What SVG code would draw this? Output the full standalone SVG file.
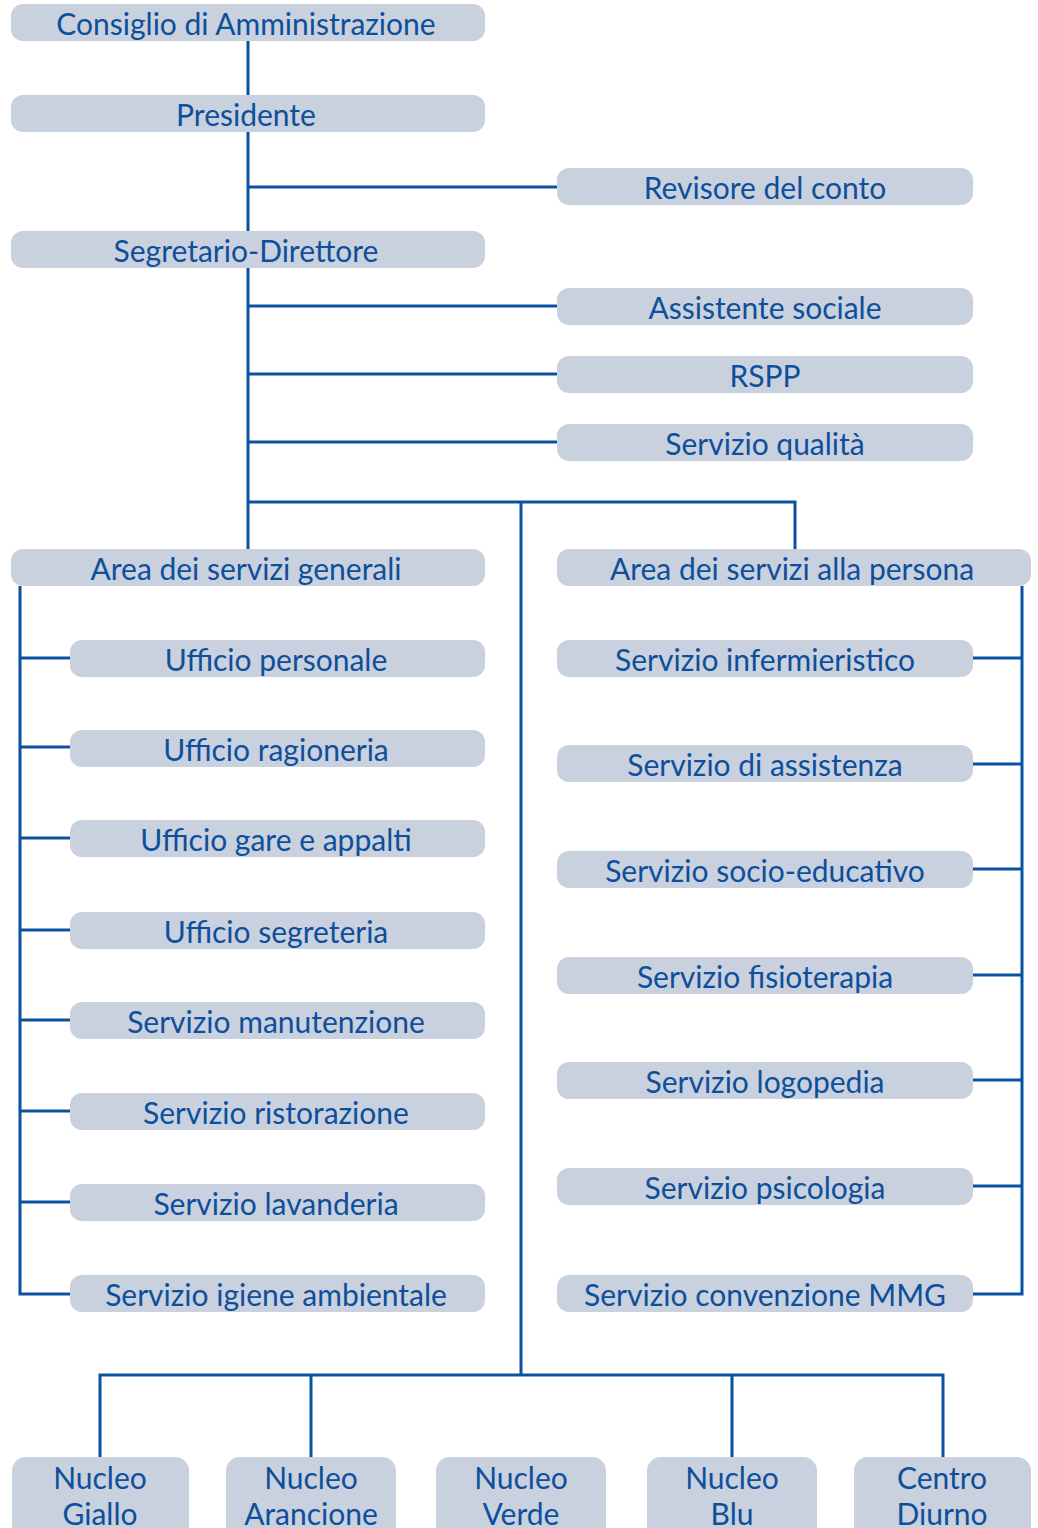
<svg xmlns="http://www.w3.org/2000/svg" width="1038" height="1528" viewBox="0 0 1038 1528">
<style>
.b{fill:#c9d0de}
.t{font-family:"Lato","Noto Sans",sans-serif;font-size:30px;fill:#0d4f9b;text-anchor:middle}
.c{stroke:#0a52a0;stroke-width:3;fill:none}
</style>
<rect width="1038" height="1528" fill="#fff"/>
<g id="connectors" class="c">
<path d="M248 41V549"/>
<path d="M248 187H557M248 306H557M248 374H557M248 442H557"/>
<path d="M248 502H795V549M521 502V1375"/>
<path d="M20 586V1294H70M20 658H70M20 747H70M20 838H70M20 930H70M20 1020H70M20 1111H70M20 1202H70"/>
<path d="M1022 586V1294H973M973 658H1022M973 764H1022M973 869H1022M973 975H1022M973 1080H1022M973 1186H1022"/>
<path d="M100 1457V1375H943V1457M311 1375V1457M732 1375V1457"/>
</g>
<g id="n1"><rect class="b" x="11" y="4" width="474" height="37" rx="12"/><text class="t" x="246" y="35">Consiglio di Amministrazione</text></g>
<g id="n2"><rect class="b" x="11" y="95" width="474" height="37" rx="12"/><text class="t" x="246" y="126">Presidente</text></g>
<g id="n3"><rect class="b" x="557" y="168" width="416" height="37" rx="12"/><text class="t" x="765" y="199">Revisore del conto</text></g>
<g id="n4"><rect class="b" x="11" y="231" width="474" height="37" rx="12"/><text class="t" x="246" y="262">Segretario-Direttore</text></g>
<g id="n5"><rect class="b" x="557" y="288" width="416" height="37" rx="12"/><text class="t" x="765" y="319">Assistente sociale</text></g>
<g id="n6"><rect class="b" x="557" y="356" width="416" height="37" rx="12"/><text class="t" x="765" y="387">RSPP</text></g>
<g id="n7"><rect class="b" x="557" y="424" width="416" height="37" rx="12"/><text class="t" x="765" y="455">Servizio qualità</text></g>
<g id="n8"><rect class="b" x="11" y="549" width="474" height="37" rx="12"/><text class="t" x="246" y="580">Area dei servizi generali</text></g>
<g id="n9"><rect class="b" x="557" y="549" width="474" height="37" rx="12"/><text class="t" x="792" y="580">Area dei servizi alla persona</text></g>
<g id="n10"><rect class="b" x="70" y="640" width="415" height="37" rx="12"/><text class="t" x="276" y="671">Ufficio personale</text></g>
<g id="n11"><rect class="b" x="70" y="730" width="415" height="37" rx="12"/><text class="t" x="276" y="761">Ufficio ragioneria</text></g>
<g id="n12"><rect class="b" x="70" y="820" width="415" height="37" rx="12"/><text class="t" x="276" y="851">Ufficio gare e appalti</text></g>
<g id="n13"><rect class="b" x="70" y="912" width="415" height="37" rx="12"/><text class="t" x="276" y="943">Ufficio segreteria</text></g>
<g id="n14"><rect class="b" x="70" y="1002" width="415" height="37" rx="12"/><text class="t" x="276" y="1033">Servizio manutenzione</text></g>
<g id="n15"><rect class="b" x="70" y="1093" width="415" height="37" rx="12"/><text class="t" x="276" y="1124">Servizio ristorazione</text></g>
<g id="n16"><rect class="b" x="70" y="1184" width="415" height="37" rx="12"/><text class="t" x="276" y="1215">Servizio lavanderia</text></g>
<g id="n17"><rect class="b" x="70" y="1275" width="415" height="37" rx="12"/><text class="t" x="276" y="1306">Servizio igiene ambientale</text></g>
<g id="n18"><rect class="b" x="557" y="640" width="416" height="37" rx="12"/><text class="t" x="765" y="671">Servizio infermieristico</text></g>
<g id="n19"><rect class="b" x="557" y="745" width="416" height="37" rx="12"/><text class="t" x="765" y="776">Servizio di assistenza</text></g>
<g id="n20"><rect class="b" x="557" y="851" width="416" height="37" rx="12"/><text class="t" x="765" y="882">Servizio socio-educativo</text></g>
<g id="n21"><rect class="b" x="557" y="957" width="416" height="37" rx="12"/><text class="t" x="765" y="988">Servizio fisioterapia</text></g>
<g id="n22"><rect class="b" x="557" y="1062" width="416" height="37" rx="12"/><text class="t" x="765" y="1093">Servizio logopedia</text></g>
<g id="n23"><rect class="b" x="557" y="1168" width="416" height="37" rx="12"/><text class="t" x="765" y="1199">Servizio psicologia</text></g>
<g id="n24"><rect class="b" x="557" y="1275" width="416" height="37" rx="12"/><text class="t" x="765" y="1306">Servizio convenzione MMG</text></g>
<g id="n25"><rect class="b" x="12" y="1457" width="177" height="90" rx="14"/><text class="t" x="100" y="1489">Nucleo</text><text class="t" x="100" y="1525">Giallo</text></g>
<g id="n26"><rect class="b" x="226" y="1457" width="170" height="90" rx="14"/><text class="t" x="311" y="1489">Nucleo</text><text class="t" x="311" y="1525">Arancione</text></g>
<g id="n27"><rect class="b" x="436" y="1457" width="170" height="90" rx="14"/><text class="t" x="521" y="1489">Nucleo</text><text class="t" x="521" y="1525">Verde</text></g>
<g id="n28"><rect class="b" x="647" y="1457" width="170" height="90" rx="14"/><text class="t" x="732" y="1489">Nucleo</text><text class="t" x="732" y="1525">Blu</text></g>
<g id="n29"><rect class="b" x="854" y="1457" width="177" height="90" rx="14"/><text class="t" x="942" y="1489">Centro</text><text class="t" x="942" y="1525">Diurno</text></g>
</svg>
